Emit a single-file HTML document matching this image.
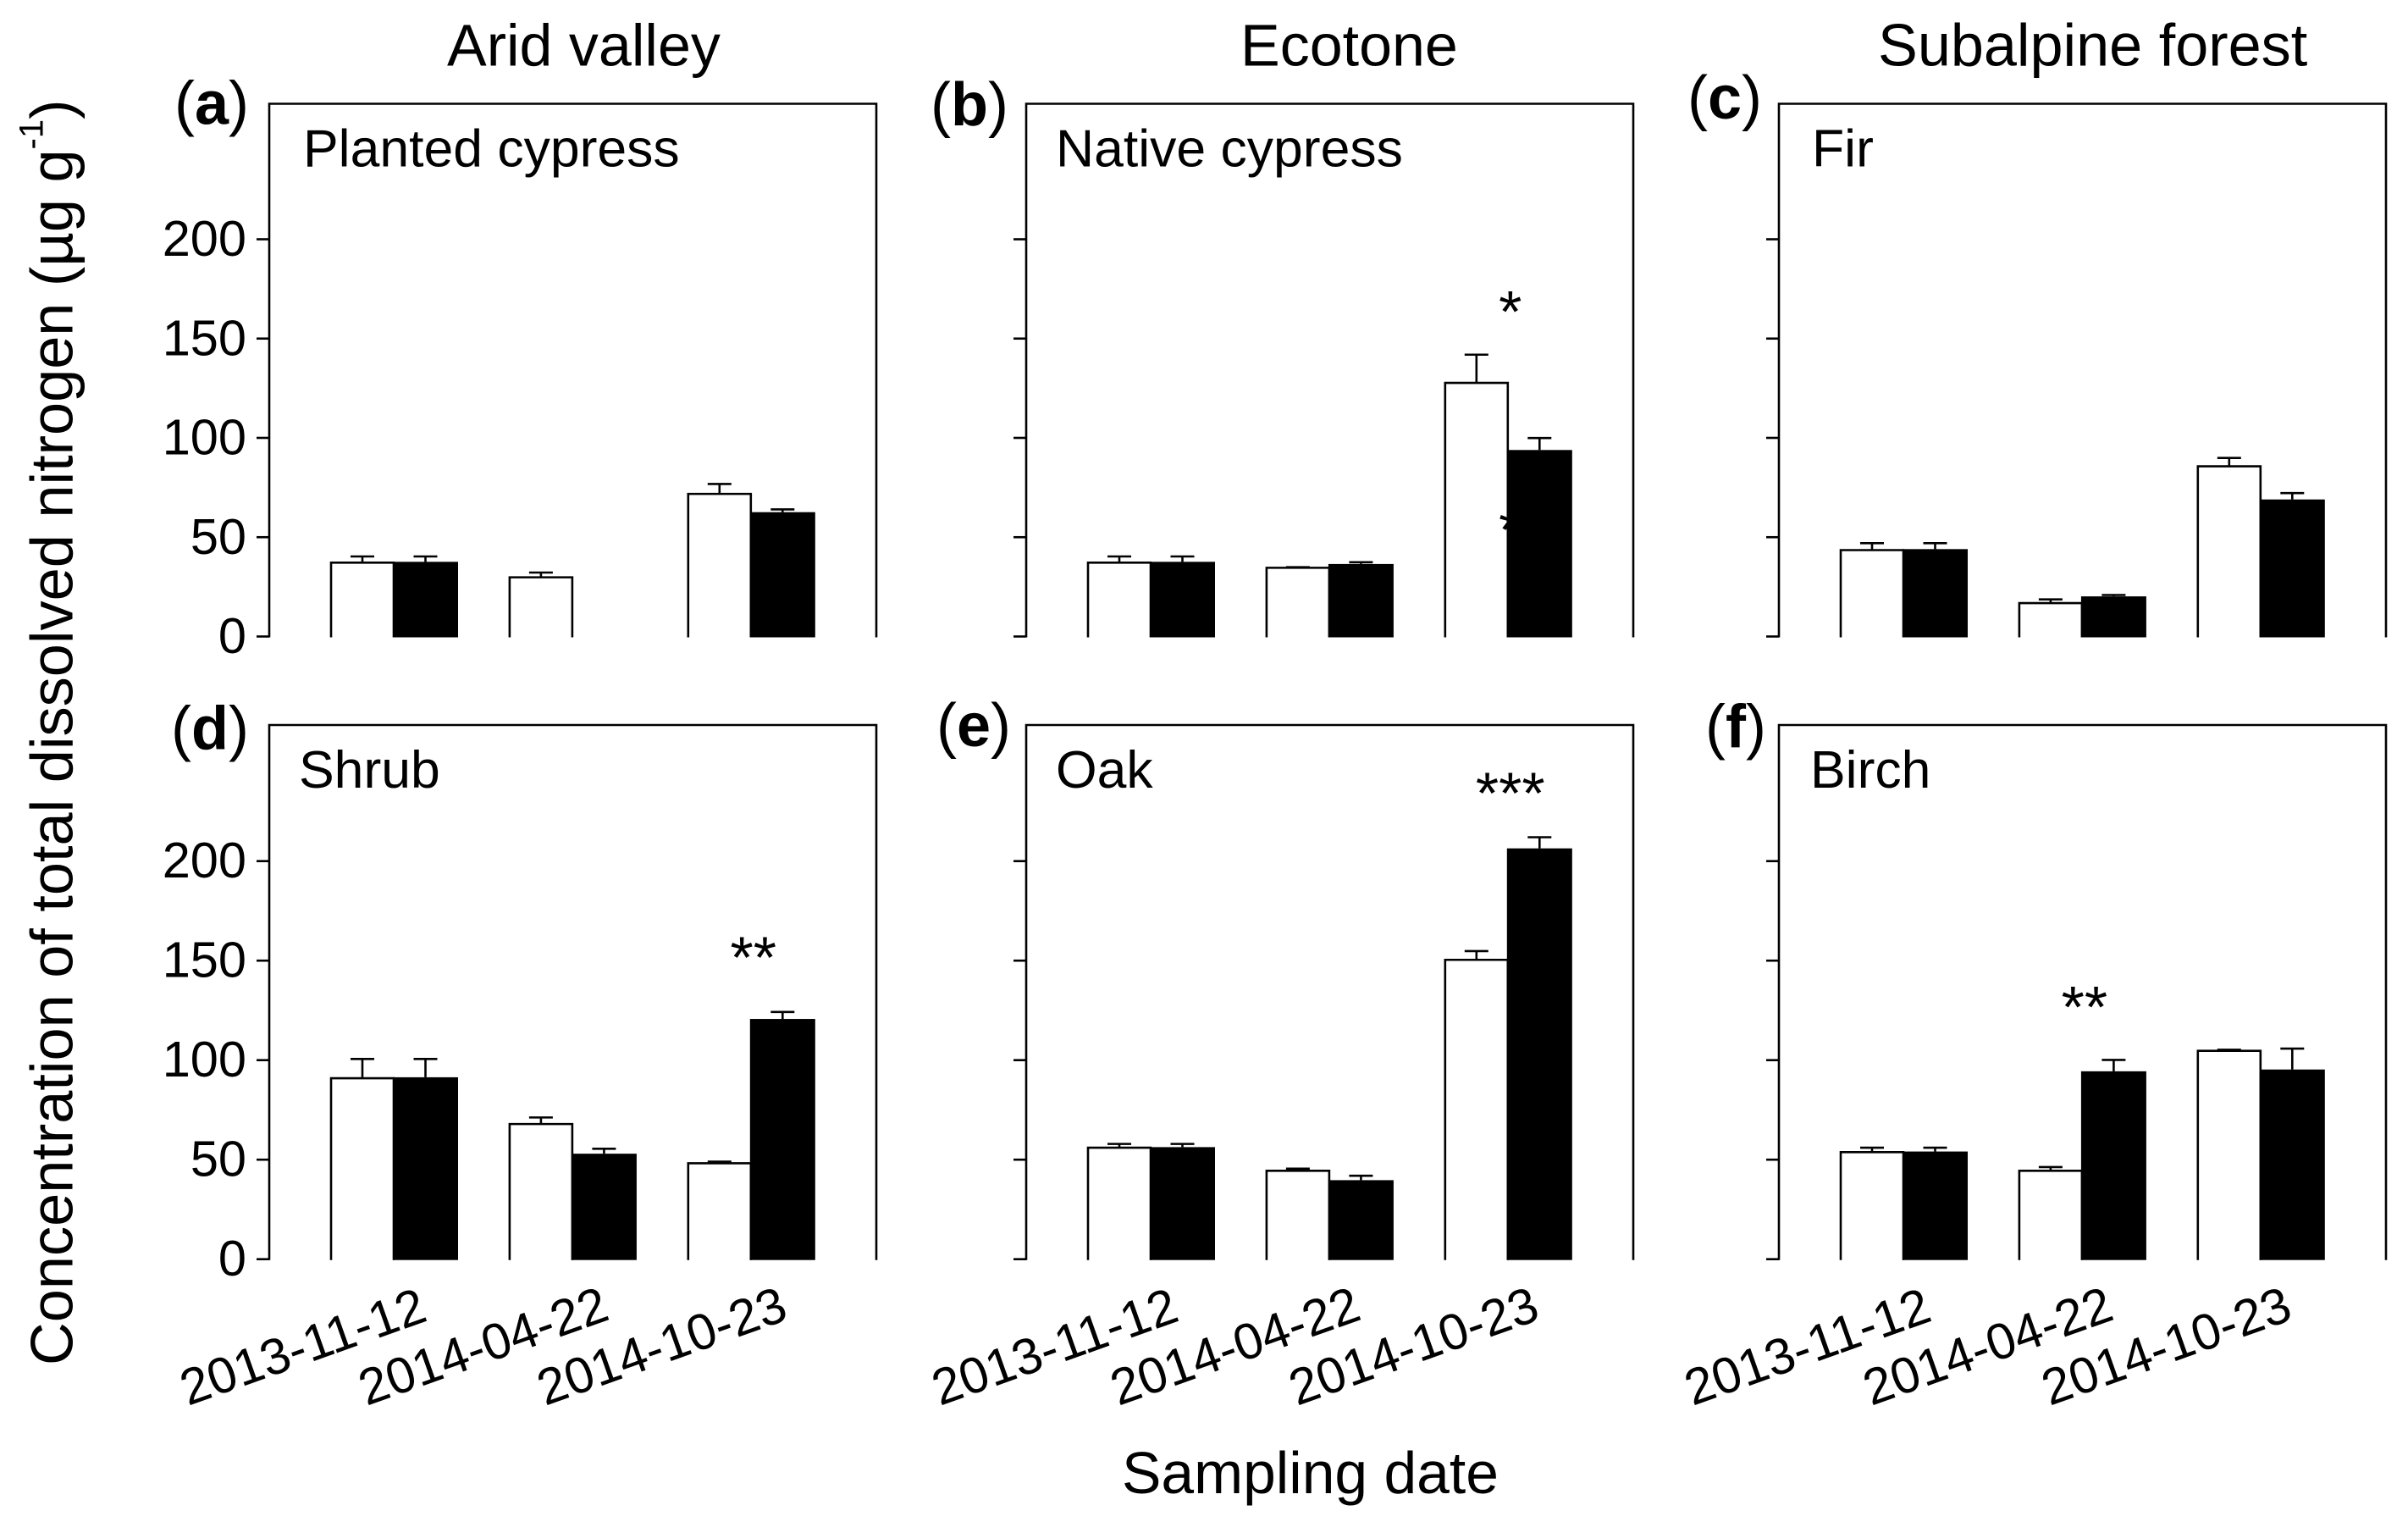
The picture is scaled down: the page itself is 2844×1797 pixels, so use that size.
<!DOCTYPE html>
<html lang="en">
<head>
<meta charset="utf-8">
<title>Total dissolved nitrogen by sampling date</title>
<style>
html,body{margin:0;padding:0;background:#fff;}
svg{display:block;}
text{font-family:"Liberation Sans",Arial,sans-serif;fill:#000;}
</style>
</head>
<body>
<svg id="chart" xmlns="http://www.w3.org/2000/svg" width="2844" height="1797" viewBox="0 0 2844 1797">
  <rect x="0" y="0" width="2844" height="1797" fill="#fff"/>
  <text x="528" y="77.5" font-size="70">Arid valley</text>
  <text x="1465" y="77.5" font-size="70">Ecotone</text>
  <text x="2218" y="77.5" font-size="70.2">Subalpine forest</text>
  <text transform="translate(85.5,1612) rotate(-90)" font-size="70.3">Concentration of total dissolved nitrogen (µg g<tspan dy="-35" font-size="40">-1</tspan><tspan dy="35">)</tspan></text>
  <text x="1325" y="1763" font-size="69.6">Sampling date</text>
</svg>
<script>
const categories = ['2013-11-12', '2014-04-22', '2014-10-23'];
const yTickValues = [0, 50, 100, 150, 200];
const panelLetters = ['a', 'b', 'c', 'd', 'e', 'f'];
const panelSpecies = ['Planted cypress', 'Native cypress', 'Fir', 'Shrub', 'Oak', 'Birch'];

const whiteMeansA = [37.2, 29.8, 71.8];
const whiteUppersA = [40.3, 32.2, 76.8];
const blackMeansA = [37.6, null, 62.6];
const blackUppersA = [40.3, null, 64];

const whiteMeansB = [37.2, 34.6, 127.7];
const whiteUppersB = [40.3, 34.9, 141.9];
const blackMeansB = [37.6, 36.5, 93.9];
const blackUppersB = [40.3, 37.4, 99.9];

const whiteMeansC = [43.5, 16.8, 85.7];
const whiteUppersC = [47, 18.7, 89.9];
const blackMeansC = [44, 20.2, 69];
const blackUppersC = [47, 20.9, 72.2];

const whiteMeansD = [90.9, 67.9, 48.2];
const whiteUppersD = [100.6, 71.2, 49];
const blackMeansD = [91.4, 53, 120.7];
const blackUppersD = [100.6, 55.5, 124.2];

const whiteMeansE = [56, 44.4, 150.4];
const whiteUppersE = [57.9, 45.5, 154.8];
const blackMeansE = [56.3, 39.7, 206.4];
const blackUppersE = [57.9, 41.9, 212];

const whiteMeansF = [53.8, 44.4, 104.7];
const whiteUppersF = [56, 46.3, 105.2];
const blackMeansF = [54.1, 94.4, 95.3];
const blackUppersF = [56, 100.1, 105.8];

const sigPanel = ['b', 'b', 'd', 'e', 'f'];
const sigGroup = [2, 2, 2, 2, 1];
const sigLevel = [153.2, 43.4, 141.4, 224, 116.5];
const sigLabel = ['*', '*', '**', '***', '**'];

const whiteMeans = [whiteMeansA, whiteMeansB, whiteMeansC, whiteMeansD, whiteMeansE, whiteMeansF];
const whiteUppers = [whiteUppersA, whiteUppersB, whiteUppersC, whiteUppersD, whiteUppersE, whiteUppersF];
const blackMeans = [blackMeansA, blackMeansB, blackMeansC, blackMeansD, blackMeansE, blackMeansF];
const blackUppers = [blackUppersA, blackUppersB, blackUppersC, blackUppersD, blackUppersE, blackUppersF];

const NS = 'http://www.w3.org/2000/svg';
const svg = document.getElementById('chart');
const STROKE = 2.6;
const WHITE_W = 74;
const BLACK_W = 77;
const GROUP_STEP = 210.9;
const GROUP_OFFSET = 73;
const CAP = 28;
const PANEL_W = 717;

function make(tag, attrs, parent, text) {
  const el = document.createElementNS(NS, tag);
  Object.keys(attrs).forEach(function (k) { el.setAttribute(k, attrs[k]); });
  if (text !== undefined) el.textContent = text;
  parent.appendChild(el);
  return el;
}
function panelLeft(col) { return col === 0 ? 318 : (col === 1 ? 1212 : 2101); }
function rowBase(row) { return row === 0 ? 751.5 : 1486.7; }
function rowTop(row) { return row === 0 ? 122.5 : 856; }
function rowScale(row) { return row === 0 ? 2.345 : 2.35; }
function yScale(row, v) { return rowBase(row) - v * rowScale(row); }
function groupX(col, g) { return panelLeft(col) + GROUP_OFFSET + GROUP_STEP * g; }

const letterX = [206, 1099, 1993, 202, 1106, 2014];
const letterY = [146.5, 148, 140, 884.6, 881, 882.6];
const speciesX = [358, 1247, 2140, 353, 1247, 2138];
const dateOffset = [-96, -102, -102];

panelLetters.forEach(function (letter, p) {
  const col = p % 3;
  const row = p < 3 ? 0 : 1;
  const left = panelLeft(col);
  const base = rowBase(row);
  const top = rowTop(row);
  const g = make('g', {}, svg);
  
  

  const frame = make('path', {
    d: 'M' + left + ' ' + (base + 1) + 'V' + top + 'H' + (left + PANEL_W) + 'V' + (base + 1),
    fill: 'none', stroke: '#000', 'stroke-width': STROKE
  }, g);
  
  

  yTickValues.forEach(function (v) {
    const ty = yScale(row, v);
    const tick = make('line', { x1: left - 15, x2: left, y1: ty, y2: ty, stroke: '#000', 'stroke-width': STROKE }, g);
    
    
    if (col === 0) {
      const lab = make('text', { x: 291, y: ty + 19.5, 'font-size': 59.5, 'text-anchor': 'end' }, g, String(v));
      
      
    }
  });

  const lt = make('text', { x: letterX[p], y: letterY[p], 'font-size': 72 }, g);
  
  
  make('tspan', {}, lt, '(');
  make('tspan', { 'font-weight': 'bold' }, lt, letter);
  make('tspan', {}, lt, ')');

  const sp = make('text', { x: speciesX[p], y: row === 0 ? 196.4 : 930, 'font-size': 62.5 }, g, panelSpecies[p]);
  
  

  categories.forEach(function (cat, i) {
    const x0 = groupX(col, i);
    const wv = whiteMeans[p][i];
    const wu = whiteUppers[p][i];
    const wx = x0 + WHITE_W / 2;
    const we = make('path', {
      d: 'M' + wx + ' ' + yScale(row, wv) + 'V' + yScale(row, wu) + 'M' + (wx - CAP / 2) + ' ' + yScale(row, wu) + 'H' + (wx + CAP / 2),
      fill: 'none', stroke: '#000', 'stroke-width': STROKE
    }, g);
    
    
    const wb = make('path', {
      d: 'M' + x0 + ' ' + (base + 1) + 'V' + yScale(row, wv) + 'H' + (x0 + WHITE_W) + 'V' + (base + 1),
      fill: '#fff', stroke: '#000', 'stroke-width': STROKE
    }, g);
    
    

    sigPanel.forEach(function (sp2, s) {
      if (sp2 === letter && sigGroup[s] === i) {
        const st = make('text', {
          x: x0 + WHITE_W + 3,
          y: yScale(row, sigLevel[s]),
          'font-size': 70,
          'text-anchor': 'middle'
        }, g, sigLabel[s]);
        
        
      }
    });

    const bv = blackMeans[p][i];
    const bu = blackUppers[p][i];
    if (bv !== null) {
      const bx0 = x0 + WHITE_W - 1;
      const bx = bx0 + BLACK_W / 2;
      const be = make('path', {
        d: 'M' + bx + ' ' + yScale(row, bv) + 'V' + yScale(row, bu) + 'M' + (bx - CAP / 2) + ' ' + yScale(row, bu) + 'H' + (bx + CAP / 2),
        fill: 'none', stroke: '#000', 'stroke-width': STROKE
      }, g);
      
      
      const bb = make('rect', {
        x: bx0, y: yScale(row, bv), width: BLACK_W, height: base + 1 - yScale(row, bv), fill: '#000'
      }, g);
      
      
    }

    if (row === 1) {
      const dx = left + dateOffset[col] + GROUP_STEP * i;
      const dl = make('text', {
        x: 0, y: 0, 'font-size': 60,
        transform: 'translate(' + dx + ',1660) rotate(-19.6)'
      }, g, cat);
      
      
    }
  });
});
</script>
</body>
</html>
